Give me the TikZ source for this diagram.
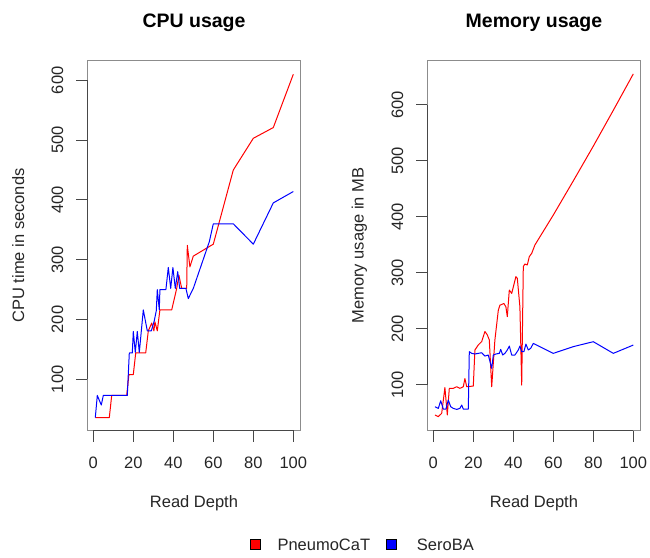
\documentclass[tikz,border=0pt]{standalone}
\usepackage{fontspec}
\setmainfont{Liberation Sans}
\begin{document}
\begin{tikzpicture}[x=1pt,y=-1pt,
  frame/.style={draw=black!45, line width=1.1pt},
  tickline/.style={draw=black!72, line width=1.1pt},
  ticklabel/.style={font=\fontsize{16.5}{18}\selectfont, inner sep=0pt, text=black!85},
  axtitle/.style={font=\fontsize{16.5}{18}\selectfont, inner sep=0pt, text=black!85},
  maintitle/.style={font=\fontsize{19.5}{22}\selectfont\bfseries, inner sep=0pt},
  pneumo/.style={draw=red, line width=1pt, line join=round},
  sero/.style={draw=blue, line width=1pt, line join=round},
  keybox/.style={draw=black, line width=0.6pt, minimum size=10pt, inner sep=0pt},
  keytext/.style={font=\fontsize{16.5}{18}\selectfont, inner sep=0pt, anchor=base west, text=black!85}]
\useasboundingbox (0,0) rectangle (650,557);
\fill[white] (0,0) rectangle (650,557);

% ---------------- CPU usage panel ----------------
\node[maintitle, anchor=base] (cpu-title) at (194,27) {CPU usage};
\draw[frame] (87.3,60.7) rectangle (300.8,430.3);
\draw[tickline] (93.3,430.3) -- (293.3,430.3);
\foreach \d in {0,20,...,100} {
  \draw[tickline] ({93.3+2*\d},430.3) -- ({93.3+2*\d},441.7);
  \node[ticklabel, anchor=base] (cpu-x\d) at ({93.3+2*\d},468) {\d};
}
\draw[tickline] (87.3,379.3) -- (87.3,80.3);
\foreach \v in {100,200,...,600} {
  \draw[tickline] (87.3,{439.1-0.598*\v}) -- (76,{439.1-0.598*\v});
  \node[ticklabel, rotate=90, anchor=base] (cpu-y\v) at (63,{439.1-0.598*\v}) {\v};
}
\node[axtitle, anchor=base] (cpu-xlab) at (194,507) {Read Depth};
\node[axtitle, rotate=90, anchor=base] (cpu-ylab) at (24,245.5) {CPU time in seconds};

\begin{scope}[shift={(93.3pt,-439.1pt)}, x=2pt, y=0.598pt]
  \draw[pneumo] (1,36) -- (8,36) -- (9.2,73) -- (16.7,73) -- (17.8,108) -- (20,108)
    -- (21.2,144) -- (26.2,144) -- (27.5,181) -- (29.2,194) -- (30.3,181) -- (30.8,196)
    -- (32,181) -- (33.3,216) -- (39.2,216) -- (41.7,252) -- (42.8,274) -- (44.2,252)
    -- (46.7,252) -- (47,324) -- (48.3,288) -- (50,306) -- (60,326) -- (70,450)
    -- (80,503) -- (90,521) -- (100,610);
  \draw[sero] (1,36) -- (2,73) -- (4,57) -- (5,73) -- (17,73) -- (18,144) -- (19.5,144)
    -- (20,180) -- (21,145) -- (22,180) -- (23,145) -- (25,216) -- (27,181) -- (29,181)
    -- (30.5,198) -- (31.5,215) -- (32,250) -- (33,216) -- (33.3,250) -- (36.3,250)
    -- (37.5,287) -- (38.7,252) -- (39.8,287) -- (41,252) -- (42.2,280) -- (43.2,252)
    -- (46.3,252) -- (47.5,235) -- (50,252) -- (58,330) -- (60,360) -- (70,360)
    -- (80,326) -- (90,395) -- (100,414);
\end{scope}

% ---------------- Memory usage panel ----------------
\node[maintitle, anchor=base] (mem-title) at (534,27) {Memory usage};
\draw[frame] (427.3,60.7) rectangle (640.7,430.7);
\draw[tickline] (433.3,430.7) -- (633.3,430.7);
\foreach \d in {0,20,...,100} {
  \draw[tickline] ({433.3+2*\d},430.7) -- ({433.3+2*\d},442.3);
  \node[ticklabel, anchor=base] (mem-x\d) at ({433.3+2*\d},468) {\d};
}
\draw[tickline] (427.3,384.7) -- (427.3,104.7);
\foreach \v in {100,200,...,600} {
  \draw[tickline] (427.3,{440.7-0.56*\v}) -- (416,{440.7-0.56*\v});
  \node[ticklabel, rotate=90, anchor=base] (mem-y\v) at (403,{440.7-0.56*\v}) {\v};
}
\node[axtitle, anchor=base] (mem-xlab) at (534,507) {Read Depth};
\node[axtitle, rotate=90, anchor=base] (mem-ylab) at (363.5,245.5) {Memory usage in MB};

\begin{scope}[shift={(433.3pt,-440.7pt)}, x=2pt, y=0.56pt]
  \draw[pneumo] (0.85,46) -- (2.5,43) -- (4.2,49) -- (5.8,95) -- (7,46) -- (8,93.5)
    -- (10,93.5) -- (11.7,96.4) -- (13.3,93.5) -- (15,96.4) -- (15.8,111) -- (16.7,96.4)
    -- (20,97.6) -- (20.8,162) -- (22.5,171) -- (24.2,177) -- (25.8,195) -- (27,189)
    -- (28,180) -- (29.2,96.4) -- (30.8,180) -- (32.5,233) -- (33.3,242) -- (35.3,245)
    -- (36.3,239) -- (37,221.5) -- (38,269) -- (39.2,263) -- (41.3,293) -- (42,290)
    -- (43.3,239) -- (44.2,99.4) -- (45,311) -- (45.8,315.6) -- (47,313.8) -- (48,328.7)
    -- (49.2,334.6) -- (50.8,349.5) -- (60,403) -- (70,464) -- (80,526) -- (90,590)
    -- (100,655);
  \draw[sero] (0.85,60.7) -- (2.5,57.7) -- (3.7,71.4) -- (5,56.5) -- (6.3,56.5)
    -- (7.5,72.6) -- (8.7,60.7) -- (10,57.7) -- (11.7,55.9) -- (13.3,57.7) -- (14.2,63.7)
    -- (15,56.5) -- (17.5,56.5) -- (18,159) -- (19.2,156) -- (20.8,154.8) -- (22.5,156)
    -- (24.2,157.1) -- (25.8,151.2) -- (27.5,153) -- (29.2,129.2) -- (30,153)
    -- (31.3,154.8) -- (33,156) -- (33.7,163.1) -- (34.7,153) -- (35.8,156) -- (37,162)
    -- (38,169) -- (39.2,153) -- (40.8,153) -- (42.5,162) -- (43.3,169) -- (44.2,159)
    -- (45.3,159) -- (46.3,172.6) -- (47.5,162) -- (48.7,165) -- (50,173.8) -- (60,156)
    -- (70,168) -- (80,176.8) -- (90,156) -- (100,170.8);
\end{scope}

% ---------------- legend ----------------
\node[keybox, fill=red] (key-pneumo) at (255,544.7) {};
\node[keytext] (lbl-pneumo) at (277.3,550) {PneumoCaT};
\node[keybox, fill=blue] (key-sero) at (391.7,544.7) {};
\node[keytext] (lbl-sero) at (416.7,550) {SeroBA};
\end{tikzpicture}
\end{document}
